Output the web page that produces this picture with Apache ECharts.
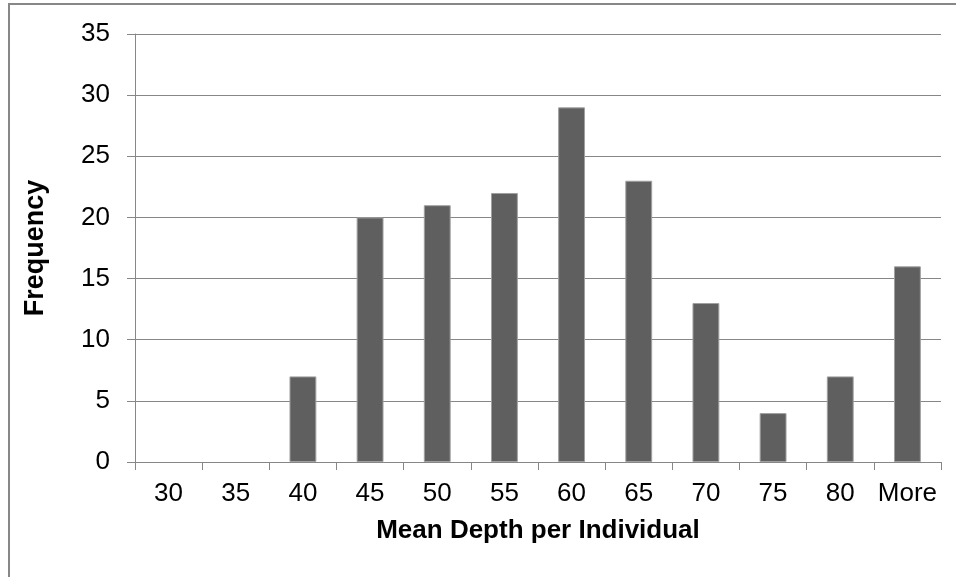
<!DOCTYPE html>
<html>
<head>
<meta charset="utf-8">
<script src="https://cdn.jsdelivr.net/npm/echarts@6/dist/echarts.min.js"></script>
<style>
  html, body { margin: 0; padding: 0; background: #fff; }
  #chart { width: 956px; height: 577px; }
</style>
</head>
<body>
<div id="chart"></div>
<script>
// histogram bins and counts
const bins = ['30', '35', '40', '45', '50', '55', '60', '65', '70', '75', '80', 'More'];
const frequency = [0, 0, 7, 20, 21, 22, 29, 23, 13, 4, 7, 16];

const chart = echarts.init(document.getElementById('chart'));

const grey = '#878787';
const font = 'Liberation Sans, Arial, sans-serif';

const option = {
    animation: false,
    backgroundColor: '#fff',
    grid: { left: 135, right: 15, top: 34, bottom: 115 },
    graphic: [{
        type: 'rect',
        shape: { x: 9, y: 4, width: 960, height: 600 },
        style: { fill: 'none', stroke: grey, lineWidth: 2 }
    }],
    xAxis: {
        type: 'category',
        data: bins,
        name: 'Mean Depth per Individual',
        nameLocation: 'middle',
        nameGap: 56,
        nameTextStyle: { fontFamily: font, fontSize: 26, fontWeight: 'bold', color: '#000' },
        axisLine: { lineStyle: { color: grey, width: 1 } },
        axisTick: { show: true, interval: 0, length: 8, lineStyle: { color: grey } },
        axisLabel: { interval: 0, fontFamily: font, fontSize: 26, color: '#000', margin: 19 }
    },
    yAxis: {
        type: 'value',
        min: 0,
        max: 35,
        interval: 5,
        name: 'Frequency',
        nameLocation: 'middle',
        nameGap: 86,
        nameRotate: 90,
        nameTextStyle: { fontFamily: font, fontSize: 27, fontWeight: 'bold', color: '#000' },
        axisLine: { show: true, lineStyle: { color: grey, width: 1 } },
        axisTick: { show: true, length: 8, lineStyle: { color: grey } },
        axisLabel: { fontFamily: font, fontSize: 26, color: '#000', margin: 25 },
        splitLine: { lineStyle: { color: grey, width: 1 } }
    },
    series: [{
        type: 'bar',
        data: frequency.map(v => ({ value: v, itemStyle: v === 0 ? { borderWidth: 0 } : {} })),
        barWidth: '40%',
        itemStyle: { color: '#5f5f5f', borderColor: '#a0a0a0', borderWidth: 1 }
    }]
};

chart.setOption(option);
</script>
</body>
</html>
